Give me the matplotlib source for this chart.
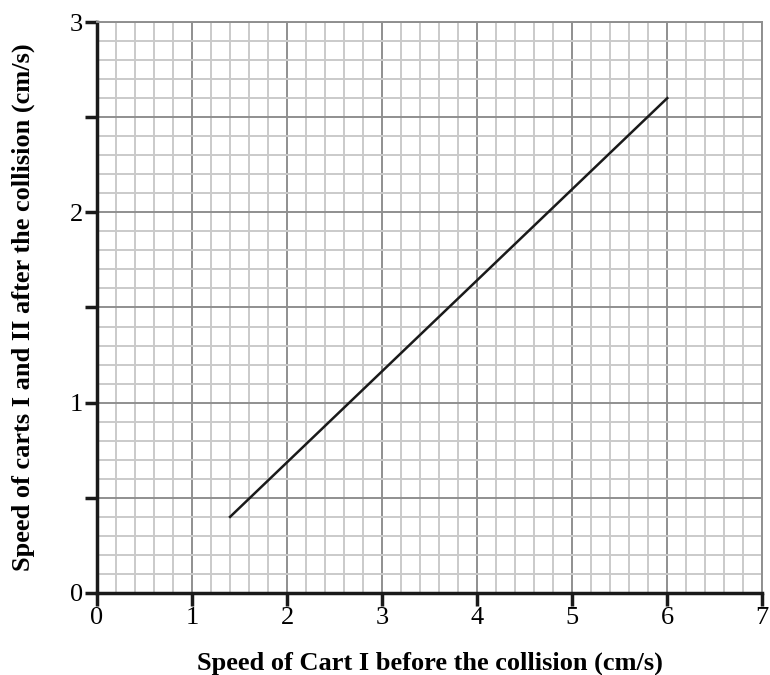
import matplotlib
matplotlib.use('Agg')
import matplotlib.pyplot as plt
from matplotlib.ticker import MultipleLocator, FuncFormatter

# line endpoints
speed_before = [1.4, 6.0]
speed_after = [0.4, 2.6]

plt.rcParams['font.family'] = ['Liberation Serif', 'DejaVu Serif']

fig = plt.figure(figsize=(7.7, 6.75), dpi=100)
ax = fig.add_axes([0.126, 0.1215, 0.864, 0.8459])
ax.set_xlim(0, 7)
ax.set_ylim(0, 3)

# graph-paper grid
ax.xaxis.set_major_locator(MultipleLocator(1))
ax.xaxis.set_minor_locator(MultipleLocator(0.2))
ax.yaxis.set_major_locator(MultipleLocator(0.5))
ax.yaxis.set_minor_locator(MultipleLocator(0.1))
ax.grid(which='minor', color='#cacaca', linewidth=1.4)
ax.grid(which='major', color='#8f8f8f', linewidth=1.4)
ax.set_axisbelow(True)

# labels only on whole numbers of the y axis
ax.yaxis.set_major_formatter(FuncFormatter(
    lambda v, p: '%d' % round(v) if abs(v - round(v)) < 1e-6 else ''))
ax.tick_params(which='major', direction='out', length=9, width=2.5,
               color='#1a1a1a', labelsize=19, pad=1)
ax.tick_params(which='minor', length=0)

for s in ['top', 'right']:
    ax.spines[s].set_color('#8f8f8f')
    ax.spines[s].set_linewidth(1.4)
for s in ['left', 'bottom']:
    ax.spines[s].set_color('#1a1a1a')
    ax.spines[s].set_linewidth(2.5)

ax.plot(speed_before, speed_after, color='#1a1a1a', linewidth=1.8)

ax.set_xlabel('Speed of Cart I before the collision (cm/s)', fontsize=19,
              fontweight='bold', labelpad=16)
ax.set_ylabel('Speed of carts I and II after the collision (cm/s)', fontsize=19,
              fontweight='bold', labelpad=25)

fig.savefig('out.png', dpi=100)
